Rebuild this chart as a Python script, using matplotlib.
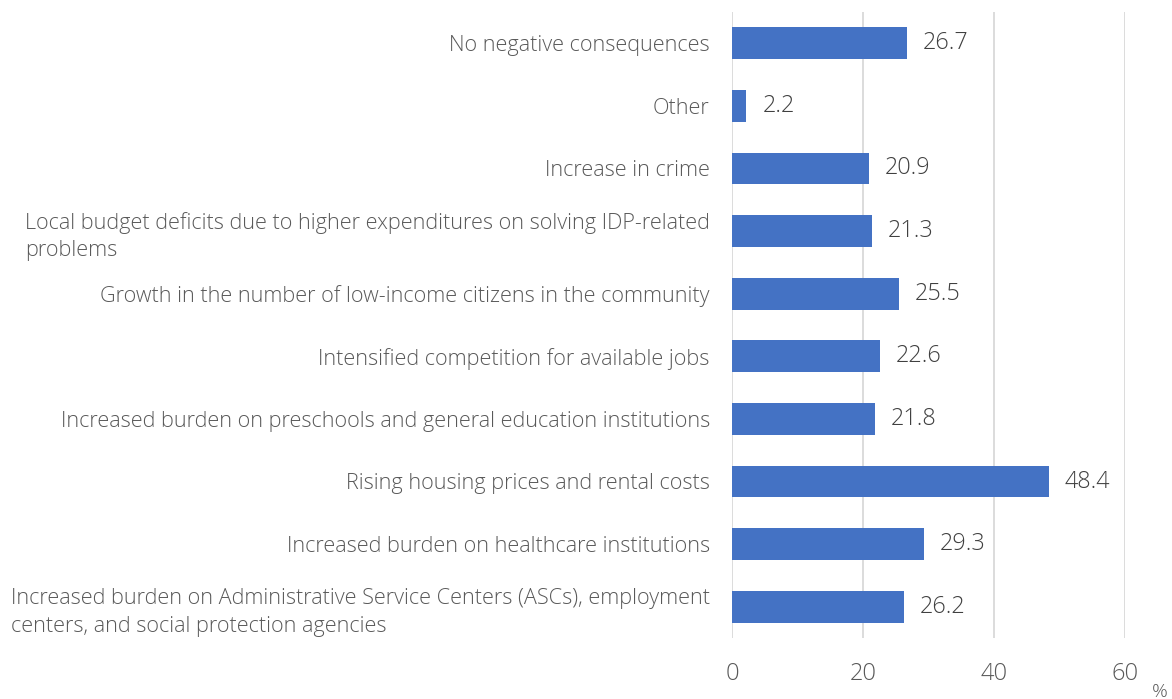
import matplotlib.pyplot as plt

# categories listed bottom to top
categories = [
    "Increased burden on Administrative Service Centers (ASCs), employment\ncenters, and social protection agencies",
    "Increased burden on healthcare institutions",
    "Rising housing prices and rental costs",
    "Increased burden on preschools and general education institutions",
    "Intensified competition for available jobs",
    "Growth in the number of low-income citizens in the community",
    "Local budget deficits due to higher expenditures on solving IDP-related\nproblems",
    "Increase in crime",
    "Other",
    "No negative consequences",
]
values = [26.2, 29.3, 48.4, 21.8, 22.6, 25.5, 21.3, 20.9, 2.2, 26.7]
xticks = [0, 20, 40, 60]

plt.rcParams['font.family'] = ['Open Sans', 'DejaVu Sans']

fig = plt.figure(figsize=(11.72, 6.99), dpi=100)
ax = fig.add_axes([732 / 1172, 1 - 638 / 699, (1125 - 732) / 1172, (638 - 12) / 699])

pos = range(len(categories))
ax.barh(pos, values, height=0.51, color='#4472C4', zorder=3)

for y, v in zip(pos, values):
    ax.annotate(f"{v:.1f}", (v, y), xytext=(16, 0), textcoords='offset pixels',
                va='center', ha='left', fontsize=16.8, color='#404040', fontweight='light')

ax.set_xlim(0, 60)
ax.set_ylim(-0.5, len(categories) - 0.5)
ax.set_xticks(xticks)
ax.set_xticklabels([str(t) for t in xticks], fontsize=17, color='#595959', fontweight='light')
ax.set_yticks(list(pos))
ax.set_yticklabels(categories, fontsize=15.6, color='#595959', fontweight='light',
                   multialignment='left', linespacing=1.4)
ax.tick_params(axis='y', length=0, pad=16)
ax.tick_params(axis='x', length=0, pad=17)

ax.grid(axis='x', color='#D9D9D9', linewidth=1.3, zorder=0)
for s in ax.spines.values():
    s.set_visible(False)

fig.text(1160 / 1172, 1 - 692 / 699, "%", fontsize=14, color='#595959',
         ha='center', va='center', fontweight='light')

fig.savefig('out.png', dpi=100)
